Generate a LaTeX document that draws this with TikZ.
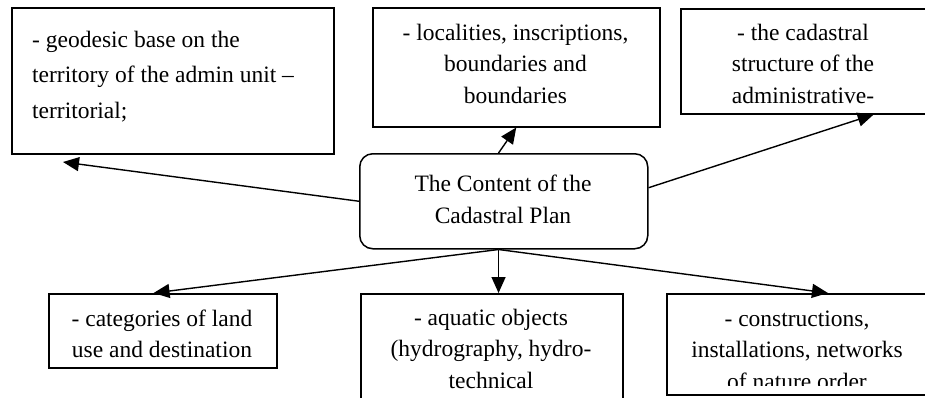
\documentclass[tikz,border=0pt]{standalone}
\usepackage{fontspec}
\setmainfont{Liberation Serif}
\usetikzlibrary{arrows.meta,calc}
\begin{document}
\begin{tikzpicture}[x=1pt,y=-1pt,
    box/.style={draw,line width=1.5pt,anchor=north west,inner sep=0pt},
    txt/.style={inner sep=0pt,anchor=base,align=center,font=\fontsize{23.5}{31.5}\selectfont},
    link/.style={line width=1.4pt,-{Triangle[length=16pt,width=14pt]}}]
    \clip (0,0) rectangle (925,397);
    \useasboundingbox (0,0) rectangle (925,397);
    % boxes
    \node[box,minimum width=322pt,minimum height=146pt] (geo) at (11,7) {};
    \node[box,minimum width=287pt,minimum height=119pt] (loc) at (372,7) {};
    \node[box,minimum width=250pt,minimum height=105pt] (adm) at (680,8) {};
    \node[box,minimum width=288pt,minimum height=95pt,rounded corners=13pt] (cnt) at (359,153) {};
    \node[box,minimum width=228pt,minimum height=74pt] (cat) at (48,293) {};
    \node[box,minimum width=262pt,minimum height=130pt] (aqu) at (360,293) {};
    \node[box,minimum width=264pt,minimum height=101pt] (con) at (666,293) {};
    % texts (anchored at the baseline of the last line)
    \node[txt,anchor=base west,align=left,font=\fontsize{23.5}{35.5}\selectfont] (geot) at (32,118)
        {- geodesic base on the\\territory of the admin unit –\\territorial;};
    \node[txt] (loct) at (515.5,103) {- localities, inscriptions,\\boundaries and\\boundaries};
    \node[txt] (admt) at (803,103) {- the cadastral\\structure of the\\administrative-};
    \node[txt,font=\fontsize{23.5}{32}\selectfont] (cntt) at (503,223) {The Content of the\\Cadastral Plan};
    \begin{scope}
        \clip (cat.north west) rectangle ($(cat.south east)+(0,-11)$);
        \node[txt] (catt) at (162,357.5) {- categories of land\\use and destination};
    \end{scope}
    \begin{scope}
        \clip (aqu.north west) rectangle ($(aqu.south east)+(0,-10)$);
        \node[txt] (aqut) at (491,388) {- aquatic objects\\(hydrography, hydro-\\technical};
    \end{scope}
    \begin{scope}
        \clip (con.north west) rectangle ($(con.south east)+(0,-10)$);
        \node[txt] (cont) at (797,389) {- constructions,\\installations, networks\\of nature order};
    \end{scope}
    % arrows
    \coordinate (geotip) at (63,162);
    \coordinate (cs) at ($(cnt.south west)!0.482!(cnt.south east)$);
    \draw[link] (cnt.west) -- (geotip);
    \draw[link] ($(cnt.north west)!0.482!(cnt.north east)$) -- (loc.south);
    \draw[link] ($(cnt.north east)!0.36!(cnt.south east)$) -- ($(adm.south west)!0.77!(adm.south east)$);
    \draw[link] (cs) -- ($(cat.north west)!0.46!(cat.north east)$);
    \draw[link] (cs) -- (cs |- aqu.north);
    \draw[link] (cs) -- ($(con.north west)!0.61!(con.north east)$);
\end{tikzpicture}
\end{document}
